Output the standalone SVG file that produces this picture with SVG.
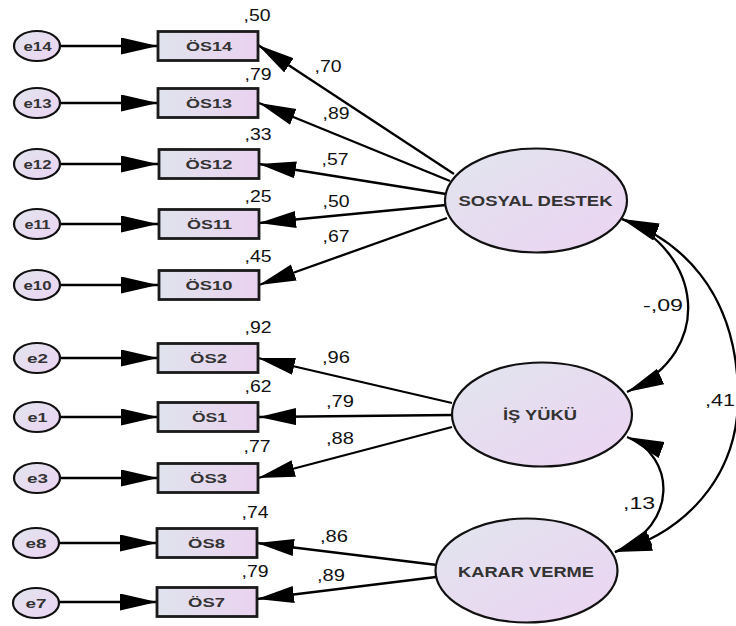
<svg xmlns="http://www.w3.org/2000/svg" width="736" height="626" viewBox="0 0 736 626">
  <defs>
    <linearGradient id="fillGrad" x1="0" y1="0" x2="1" y2="1">
      <stop offset="0" stop-color="#e1e5ee"/>
      <stop offset="1" stop-color="#ecd3f2"/>
    </linearGradient>
    <linearGradient id="boxGrad" x1="0" y1="0" x2="1" y2="0">
      <stop offset="0" stop-color="#dfe3ed"/>
      <stop offset="1" stop-color="#ead2ef"/>
    </linearGradient>
    <marker id="arrow" markerUnits="userSpaceOnUse" markerWidth="38" markerHeight="19" refX="37" refY="8.5" orient="auto-start-reverse">
      <path d="M0,0 L37,8.5 L0,17 z" fill="#000"/>
    </marker>
  </defs>
  <style>
    .err { fill: url(#fillGrad); stroke: #111; stroke-width: 2.2; }
    .obs { fill: url(#boxGrad); stroke: #1a1a1a; stroke-width: 2.8; }
    .lat { fill: url(#fillGrad); stroke: #111; stroke-width: 2.2; }
    .lbl { font-family: "Liberation Sans", Arial, sans-serif; font-weight: bold; fill: #333; text-anchor: middle; }
    .small { font-size: 13px; }
    .big { font-size: 14.5px; }
    .val { font-family: "Liberation Sans", Arial, sans-serif; font-size: 16.5px; fill: #111; text-anchor: middle; }
    .path { fill: none; stroke: #000; stroke-width: 2.3; marker-end: url(#arrow); }
    .cov { fill: none; stroke: #000; stroke-width: 2.3; marker-start: url(#arrow); marker-end: url(#arrow); }
  </style>

  <!-- connectors -->
  <g id="connectors">
    <!-- error terms to indicators -->
    <path class="path" d="M60,46 L158,46"/>
    <path class="path" d="M60,103 L158,103"/>
    <path class="path" d="M60,164 L158,164"/>
    <path class="path" d="M60,224 L158,224"/>
    <path class="path" d="M60,285 L158,285"/>
    <path class="path" d="M60,358 L158,358"/>
    <path class="path" d="M60,417 L158,417"/>
    <path class="path" d="M60,478 L158,478"/>
    <path class="path" d="M59,543 L157,543"/>
    <path class="path" d="M59,602 L157,602"/>
    <!-- SOSYAL DESTEK loadings -->
    <path class="path" d="M454,174 L258,45"/>
    <path class="path" d="M450,181 L259,103"/>
    <path class="path" d="M446,194 L259,164"/>
    <path class="path" d="M446,205 L259,223"/>
    <path class="path" d="M447,218 L259,285"/>
    <!-- İŞ YÜKÜ loadings -->
    <path class="path" d="M452,403 L258,358"/>
    <path class="path" d="M452,415 L259,417"/>
    <path class="path" d="M452,427 L258,478"/>
    <!-- KARAR VERME loadings -->
    <path class="path" d="M437,565 L257,543"/>
    <path class="path" d="M436,577 L257,599"/>
    <!-- covariances -->
    <path class="cov" d="M622,219 C700,250 718,350 627,392"/>
    <path class="cov" d="M622,219 C680,240 735,290 738,390 C741,480 680,535 615,552"/>
    <path class="cov" d="M627,437 C675,455 680,525 615,552"/>
  </g>

  <!-- connector labels -->
  <g id="estimates">
    <text class="val" x="328" y="72" textLength="27" lengthAdjust="spacingAndGlyphs">,70</text>
    <text class="val" x="336" y="119" textLength="27" lengthAdjust="spacingAndGlyphs">,89</text>
    <text class="val" x="335" y="165" textLength="27" lengthAdjust="spacingAndGlyphs">,57</text>
    <text class="val" x="336" y="207" textLength="27" lengthAdjust="spacingAndGlyphs">,50</text>
    <text class="val" x="336" y="242" textLength="27" lengthAdjust="spacingAndGlyphs">,67</text>
    <text class="val" x="336" y="363" textLength="28" lengthAdjust="spacingAndGlyphs">,96</text>
    <text class="val" x="340" y="407" textLength="28" lengthAdjust="spacingAndGlyphs">,79</text>
    <text class="val" x="340" y="444" textLength="28" lengthAdjust="spacingAndGlyphs">,88</text>
    <text class="val" x="334" y="542" textLength="28" lengthAdjust="spacingAndGlyphs">,86</text>
    <text class="val" x="331" y="581" textLength="28" lengthAdjust="spacingAndGlyphs">,89</text>
    <text class="val" x="663" y="311" textLength="40" lengthAdjust="spacingAndGlyphs">-,09</text>
    <text class="val" x="720" y="406" textLength="30" lengthAdjust="spacingAndGlyphs">,41</text>
    <text class="val" x="639" y="509" textLength="32" lengthAdjust="spacingAndGlyphs">,13</text>
  </g>

  <!-- error terms -->
  <g id="e14"><ellipse class="err" cx="37" cy="46" rx="23" ry="15"/><text class="lbl small" x="37.5" y="50.5" textLength="28" lengthAdjust="spacingAndGlyphs">e14</text></g>
  <g id="e13"><ellipse class="err" cx="37" cy="103" rx="23" ry="15"/><text class="lbl small" x="37.5" y="107.5" textLength="28" lengthAdjust="spacingAndGlyphs">e13</text></g>
  <g id="e12"><ellipse class="err" cx="37" cy="164" rx="23" ry="15"/><text class="lbl small" x="37.5" y="168.5" textLength="28" lengthAdjust="spacingAndGlyphs">e12</text></g>
  <g id="e11"><ellipse class="err" cx="37" cy="224" rx="23" ry="15"/><text class="lbl small" x="37.5" y="228.5" textLength="26" lengthAdjust="spacingAndGlyphs">e11</text></g>
  <g id="e10"><ellipse class="err" cx="37" cy="285" rx="23" ry="15"/><text class="lbl small" x="37.5" y="289.5" textLength="28" lengthAdjust="spacingAndGlyphs">e10</text></g>
  <g id="e2"><ellipse class="err" cx="37" cy="358" rx="23" ry="15"/><text class="lbl small" x="37.5" y="362.5" textLength="21" lengthAdjust="spacingAndGlyphs">e2</text></g>
  <g id="e1"><ellipse class="err" cx="37" cy="417" rx="23" ry="15"/><text class="lbl small" x="37.5" y="421.5" textLength="20" lengthAdjust="spacingAndGlyphs">e1</text></g>
  <g id="e3"><ellipse class="err" cx="37" cy="478" rx="23" ry="15"/><text class="lbl small" x="37.5" y="482.5" textLength="21" lengthAdjust="spacingAndGlyphs">e3</text></g>
  <g id="e8"><ellipse class="err" cx="36" cy="543" rx="23" ry="15"/><text class="lbl small" x="36" y="547.5" textLength="21" lengthAdjust="spacingAndGlyphs">e8</text></g>
  <g id="e7"><ellipse class="err" cx="36" cy="603" rx="23" ry="15"/><text class="lbl small" x="36" y="607.5" textLength="21" lengthAdjust="spacingAndGlyphs">e7</text></g>

  <!-- observed indicators -->
  <g id="OS14"><rect class="obs" x="158" y="31.5" width="100" height="29"/><text class="lbl small" x="209" y="50.5" textLength="46" lengthAdjust="spacingAndGlyphs">ÖS14</text><text class="val" x="257" y="21" textLength="27" lengthAdjust="spacingAndGlyphs">,50</text></g>
  <g id="OS13"><rect class="obs" x="158" y="88.5" width="100" height="29"/><text class="lbl small" x="209" y="107.5" textLength="46" lengthAdjust="spacingAndGlyphs">ÖS13</text><text class="val" x="258" y="80" textLength="27" lengthAdjust="spacingAndGlyphs">,79</text></g>
  <g id="OS12"><rect class="obs" x="159" y="149.5" width="100" height="29"/><text class="lbl small" x="209" y="168.5" textLength="47" lengthAdjust="spacingAndGlyphs">ÖS12</text><text class="val" x="258" y="140" textLength="27" lengthAdjust="spacingAndGlyphs">,33</text></g>
  <g id="OS11"><rect class="obs" x="159" y="209.5" width="100" height="29"/><text class="lbl small" x="209.5" y="228.5" textLength="45" lengthAdjust="spacingAndGlyphs">ÖS11</text><text class="val" x="258" y="202" textLength="27" lengthAdjust="spacingAndGlyphs">,25</text></g>
  <g id="OS10"><rect class="obs" x="159" y="270.5" width="100" height="29"/><text class="lbl small" x="209" y="289.5" textLength="47" lengthAdjust="spacingAndGlyphs">ÖS10</text><text class="val" x="258" y="262" textLength="27" lengthAdjust="spacingAndGlyphs">,45</text></g>
  <g id="OS2"><rect class="obs" x="158" y="343.5" width="100" height="29"/><text class="lbl small" x="208.5" y="362.5" textLength="37" lengthAdjust="spacingAndGlyphs">ÖS2</text><text class="val" x="258" y="333" textLength="27" lengthAdjust="spacingAndGlyphs">,92</text></g>
  <g id="OS1"><rect class="obs" x="158" y="402.5" width="100" height="29"/><text class="lbl small" x="209.5" y="421.5" textLength="35" lengthAdjust="spacingAndGlyphs">ÖS1</text><text class="val" x="258" y="392" textLength="27" lengthAdjust="spacingAndGlyphs">,62</text></g>
  <g id="OS3"><rect class="obs" x="158" y="463.5" width="100" height="29"/><text class="lbl small" x="208.5" y="482.5" textLength="37" lengthAdjust="spacingAndGlyphs">ÖS3</text><text class="val" x="257" y="452" textLength="27" lengthAdjust="spacingAndGlyphs">,77</text></g>
  <g id="OS8"><rect class="obs" x="157" y="528.5" width="100" height="29"/><text class="lbl small" x="206.5" y="547.5" textLength="37" lengthAdjust="spacingAndGlyphs">ÖS8</text><text class="val" x="255" y="518" textLength="27" lengthAdjust="spacingAndGlyphs">,74</text></g>
  <g id="OS7"><rect class="obs" x="157" y="587.5" width="100" height="29"/><text class="lbl small" x="206.5" y="606.5" textLength="37" lengthAdjust="spacingAndGlyphs">ÖS7</text><text class="val" x="255" y="577" textLength="27" lengthAdjust="spacingAndGlyphs">,79</text></g>

  <!-- latent factors -->
  <g id="sosyal-destek"><ellipse class="lat" cx="536" cy="200.5" rx="91" ry="52"/><text class="lbl big" x="535.5" y="206" textLength="154" lengthAdjust="spacingAndGlyphs">SOSYAL DESTEK</text></g>
  <g id="is-yuku"><ellipse class="lat" cx="542" cy="414.5" rx="90" ry="52"/><text class="lbl big" x="540" y="419.5" textLength="74" lengthAdjust="spacingAndGlyphs">İŞ YÜKÜ</text></g>
  <g id="karar-verme"><ellipse class="lat" cx="526.5" cy="570.5" rx="91" ry="52"/><text class="lbl big" x="526" y="577" textLength="136" lengthAdjust="spacingAndGlyphs">KARAR VERME</text></g>
</svg>
